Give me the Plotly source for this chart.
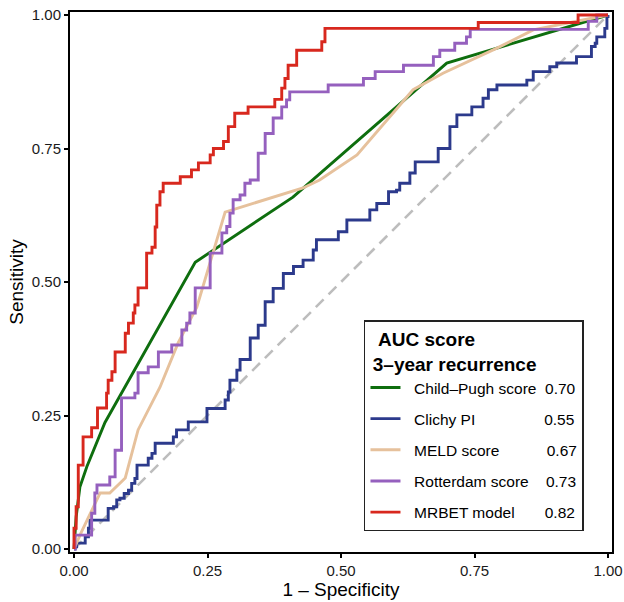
import plotly.graph_objects as go

# ---------------- data ----------------
models = ["Child–Pugh score", "Clichy PI", "MELD score", "Rotterdam score", "MRBET model"]
auc_values = ["0.70", "0.55", "0.67", "0.73", "0.82"]

child_fpr = [0, 0.004, 0.011, 0.024, 0.058, 0.227, 0.41, 0.698, 1.0]
child_tpr = [0, 0.060, 0.116, 0.154, 0.237, 0.537, 0.659, 0.910, 1.0]

clichy_fpr = [0, 0.002, 0.005, 0.021, 0.027, 0.030, 0.064, 0.074, 0.080, 0.086, 0.094, 0.102, 0.108, 0.114,
              0.118, 0.139, 0.146, 0.152, 0.186, 0.192, 0.214, 0.249, 0.283, 0.289, 0.292, 0.305, 0.311,
              0.330, 0.345, 0.358, 0.373, 0.392, 0.411, 0.429, 0.448, 0.454, 0.495, 0.511, 0.554, 0.567,
              0.589, 0.604, 0.610, 0.629, 0.639, 0.682, 0.704, 0.717, 0.745, 0.766, 0.776, 0.792, 0.848,
              0.860, 0.891, 0.904, 0.941, 0.969, 0.976, 0.979, 0.994, 0.998, 1.0]
clichy_tpr = [0, 0.004, 0.011, 0.023, 0.039, 0.054, 0.076, 0.079, 0.092, 0.095, 0.104, 0.110, 0.123, 0.132,
              0.157, 0.170, 0.179, 0.198, 0.210, 0.223, 0.238, 0.263, 0.279, 0.294, 0.316, 0.335, 0.355,
              0.395, 0.419, 0.463, 0.488, 0.516, 0.529, 0.541, 0.560, 0.579, 0.594, 0.616, 0.635, 0.647,
              0.669, 0.672, 0.685, 0.704, 0.725, 0.750, 0.791, 0.813, 0.828, 0.844, 0.860, 0.869, 0.878,
              0.894, 0.903, 0.910, 0.922, 0.941, 0.947, 0.959, 0.975, 0.997, 1.0]

meld_fpr = [0, 0.014, 0.049, 0.067, 0.096, 0.120, 0.161, 0.195, 0.230, 0.283, 0.429, 0.460, 0.530, 0.635,
            0.691, 0.792, 0.860, 0.985, 1.0]
meld_tpr = [0, 0.032, 0.105, 0.105, 0.133, 0.223, 0.303, 0.386, 0.453, 0.631, 0.676, 0.691, 0.738, 0.860,
            0.891, 0.938, 0.972, 0.998, 1.0]

rotter_fpr = [0, 0.002, 0.033, 0.039, 0.043, 0.067, 0.077, 0.089, 0.114, 0.120, 0.139, 0.158, 0.183, 0.202,
              0.211, 0.217, 0.227, 0.255, 0.277, 0.286, 0.292, 0.298, 0.311, 0.320, 0.330, 0.345, 0.358,
              0.373, 0.389, 0.398, 0.404, 0.476, 0.542, 0.564, 0.617, 0.673, 0.685, 0.713, 0.735, 0.742,
              0.963, 0.979, 1.0]
rotter_tpr = [0, 0.026, 0.067, 0.105, 0.120, 0.135, 0.185, 0.283, 0.292, 0.330, 0.341, 0.369, 0.382, 0.410,
              0.423, 0.442, 0.489, 0.554, 0.592, 0.604, 0.629, 0.654, 0.663, 0.685, 0.691, 0.741, 0.778,
              0.807, 0.828, 0.841, 0.856, 0.869, 0.881, 0.894, 0.906, 0.922, 0.934, 0.947, 0.959, 0.973,
              0.988, 1.0, 1.0]

mrbet_fpr = [0, 0, 0.004, 0.008, 0.017, 0.033, 0.044, 0.061, 0.064, 0.071, 0.077, 0.096, 0.102, 0.111, 0.114,
             0.120, 0.136, 0.146, 0.152, 0.155, 0.161, 0.167, 0.199, 0.220, 0.233, 0.255, 0.261, 0.280,
             0.289, 0.301, 0.326, 0.376, 0.389, 0.395, 0.401, 0.417, 0.464, 0.470, 0.757, 0.944, 1.0]
mrbet_tpr = [0, 0.039, 0.079, 0.157, 0.210, 0.227, 0.264, 0.292, 0.316, 0.332, 0.369, 0.404, 0.423, 0.442, 0.457,
             0.489, 0.554, 0.565, 0.603, 0.644, 0.669, 0.685, 0.697, 0.710, 0.723, 0.738, 0.750, 0.763,
             0.791, 0.816, 0.828, 0.842, 0.863, 0.881, 0.906, 0.934, 0.950, 0.975, 0.986, 1.0, 1.0]

ref_line = [0, 1]
tick_vals = [0, 0.25, 0.5, 0.75, 1.0]
tick_text = ["0.00", "0.25", "0.50", "0.75", "1.00"]

# ---------------- style ----------------
colors = ["#0E6E0E", "#2C3A8C", "#E6C19C", "#9560BE", "#D8281E"]
pad_counts = [2, 16, 11, 4, 7]
shapes_hv = [False, True, False, True, True]
FONT = "Liberation Sans, Arial, Helvetica, sans-serif"
NB = "\u00a0"

series = [(child_fpr, child_tpr), (clichy_fpr, clichy_tpr), (meld_fpr, meld_tpr),
          (rotter_fpr, rotter_tpr), (mrbet_fpr, mrbet_tpr)]

fig = go.Figure()
fig.add_trace(go.Scatter(x=ref_line, y=ref_line, mode="lines", showlegend=False,
                         line=dict(color="#BDBDBD", width=2.6, dash="11px,7px")))

for i, (name, auc, (fx, ty)) in enumerate(zip(models, auc_values, series)):
    label = NB * 2 + name + NB * pad_counts[i] + auc
    fig.add_trace(go.Scatter(
        x=fx, y=ty, mode="lines", name=label, legendgroup=f"g{i}",
        line=dict(color=colors[i], width=2.9, shape="hv" if shapes_hv[i] else "linear"),
    ))

axis_common = dict(
    showgrid=False, zeroline=False, showline=True, linecolor="black", linewidth=2,
    mirror=True, ticks="outside", ticklen=4, tickwidth=1.5, tickcolor="black",
    tickvals=tick_vals, ticktext=tick_text, automargin=False,
    tickfont=dict(family=FONT, size=15, color="#1a1a1a"),
)

fig.update_xaxes(range=[-0.0075, 1.0075], title=dict(text="1 – Specificity", font=dict(family=FONT, size=19, color="black"), standoff=2), **axis_common)
fig.update_yaxes(range=[-0.0056, 1.0056], title=dict(text="Sensitivity", font=dict(family=FONT, size=19, color="black"), standoff=3), **axis_common)

fig.update_layout(
    width=624, height=602,
    margin=dict(l=70, r=12, t=12, b=50, autoexpand=False),
    paper_bgcolor="white", plot_bgcolor="white",
    font=dict(family=FONT, color="black"),
    legend=dict(
        x=0.5424, y=0.4296, xanchor="left", yanchor="top",
        bgcolor="white", bordercolor="#222222", borderwidth=1.5,
        font=dict(family=FONT, size=15.5, color="black"),
        title=dict(text="<b>" + NB * 2 + "AUC score<br>" + NB + "3–year recurrence</b>",
                   font=dict(family=FONT, size=19, color="black")),
        traceorder="grouped", tracegroupgap=8,
    ),
)

fig.write_html("out.html", post_script="document.body.style.margin='0';document.body.style.overflow='hidden';")
